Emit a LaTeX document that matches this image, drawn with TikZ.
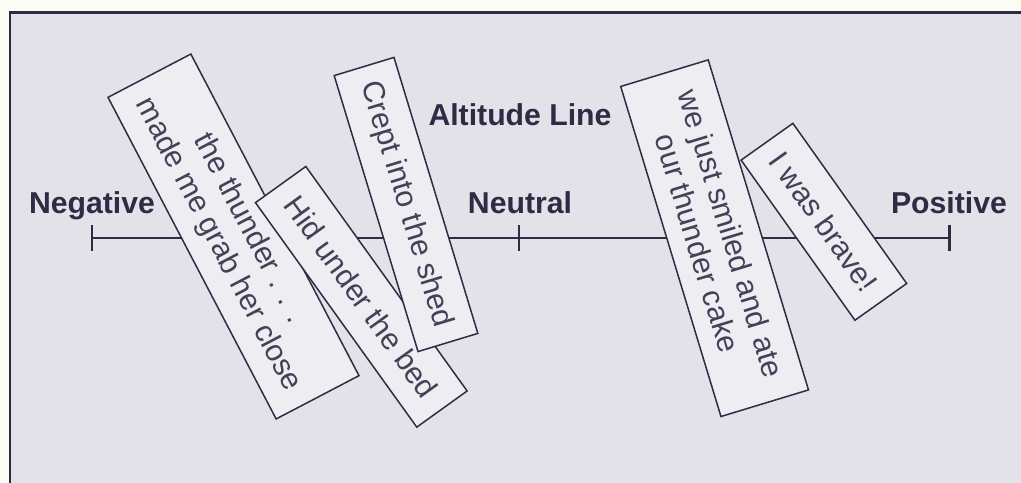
\documentclass[tikz,border=0pt]{standalone}
\usepackage{fontspec}
\setmainfont{Liberation Sans}
\definecolor{paper}{HTML}{FDFDF6}
\definecolor{panel}{HTML}{E2E2E8}
\definecolor{cardfill}{HTML}{EDEDF2}
\definecolor{ink}{HTML}{2E2B45}
\tikzset{
pole/.style={font=\fontsize{17.2}{20}\selectfont\bfseries, text=ink, anchor=base, inner sep=0pt},
card/.style={draw=ink, line width=0.85pt, fill=cardfill, text=ink!90,
  font=\fontsize{17.2}{20}\selectfont, align=center, inner sep=0pt},
tick/.style={draw=ink, line width=1.7pt}
}
\begin{document}
\begin{tikzpicture}[x=0.02cm, y=-0.02cm]
\clip (0,0) rectangle (1021,483);
\fill[paper] (0,0) rectangle (1021,483);
\draw[draw=ink, fill=panel, line width=1.7pt] (10,12.5) rectangle (1040,500);

% the line and its three marks
\coordinate (negtick) at (92,238);
\coordinate (neutick) at (519,238);
\coordinate (postick) at (949,238);
\draw[tick] (negtick) -- (postick);
\draw[tick] (negtick) ++(0,-13) -- ++(0,26);
\draw[tick] (neutick) ++(0,-13) -- ++(0,26);
\draw[tick] (postick) ++(0,-13) -- ++(0,26);

\node[pole] (neg) at (92,214) {Negative};
\node[pole] (neu) at (520,214) {Neutral};
\node[pole] (pos) at (949,214) {Positive};
\node[pole] (title) at (520,126) {Altitude Line};

% the cards
\node[card, minimum width=7.26cm, minimum height=1.87cm, rotate=-62.4] (thunder) at (233.5,236.5)
  {the thunder . . .\\made me grab her close};
\node[card, minimum width=5.53cm, minimum height=1.24cm, rotate=-54.3] (bed) at (361.3,296.8)
  {Hid under the bed};
\node[card, minimum width=5.77cm, minimum height=1.25cm, rotate=-73.1] (shed) at (406,204.5)
  {Crept into the shed};
\node[card, minimum width=3.93cm, minimum height=1.27cm, rotate=-54.6] (brave) at (823.9,221.8)
  {I was brave!};
\node[card, minimum width=6.9cm, minimum height=1.83cm, rotate=-73.1] (cake) at (714.6,238.2)
  {we just smiled and ate\\our thunder cake};

\end{tikzpicture}
\end{document}
